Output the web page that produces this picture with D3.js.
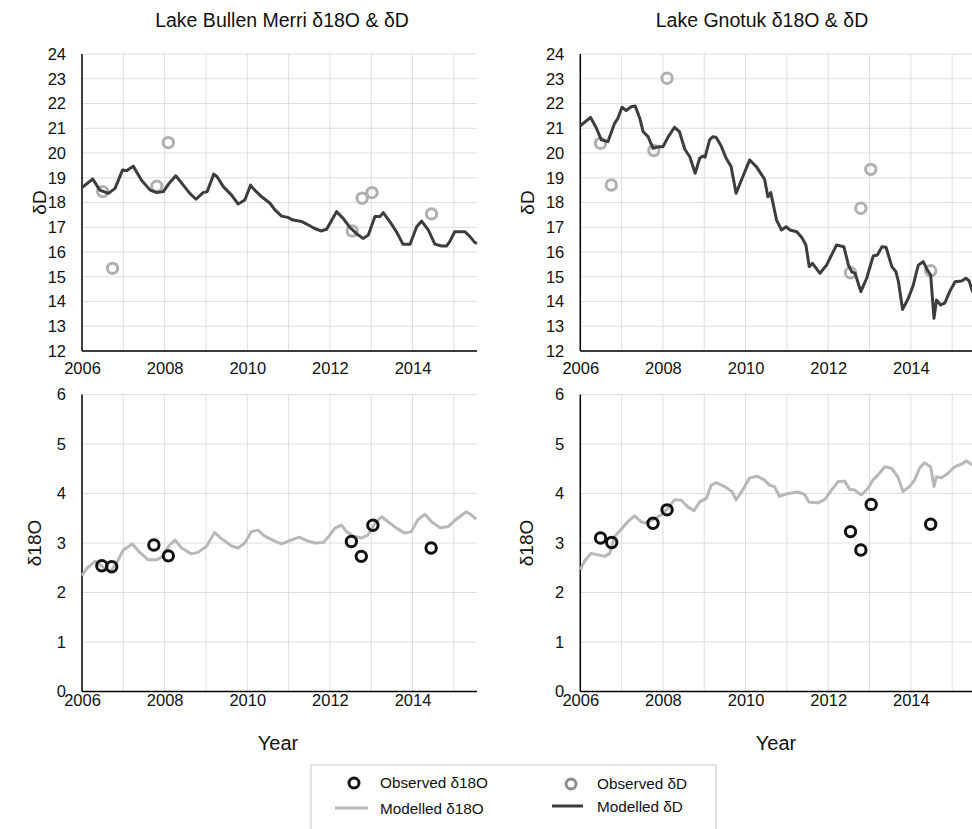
<!DOCTYPE html>
<html>
<head>
<meta charset="utf-8">
<script src="https://cdn.jsdelivr.net/npm/d3@7"></script>
<style>
  body { margin: 0; background: #fff; }
  svg { font-family: "Liberation Sans", Arial, sans-serif; }
  .tick text { font-size: 16.5px; fill: #111; }
  .grid line { stroke: #dedede; stroke-width: 1; }
  .axis-title { font-size: 19px; fill: #111; }
  .year-title { font-size: 20px; fill: #111; }
  .panel-title { font-size: 19.5px; fill: #111; }
  .legend-label { font-size: 15.3px; fill: #111; }
</style>
</head>
<body>
<div id="chart"></div>
<script>
// values, [decimal year, value]
var bullenModD = [[2006.0,18.6],[2006.26,18.95],[2006.43,18.5],[2006.64,18.37],[2006.8,18.57],[2006.98,19.31],[2007.08,19.28],[2007.24,19.47],[2007.44,18.9],[2007.65,18.5],[2007.81,18.4],[2007.97,18.44],[2008.11,18.78],[2008.27,19.08],[2008.45,18.7],[2008.61,18.37],[2008.76,18.13],[2008.93,18.4],[2009.03,18.44],[2009.19,19.15],[2009.27,19.04],[2009.42,18.64],[2009.62,18.3],[2009.78,17.94],[2009.94,18.1],[2010.08,18.7],[2010.18,18.5],[2010.35,18.23],[2010.55,17.97],[2010.67,17.7],[2010.83,17.45],[2010.98,17.4],[2011.11,17.29],[2011.32,17.23],[2011.48,17.09],[2011.62,16.96],[2011.78,16.85],[2011.92,16.92],[2012.16,17.63],[2012.32,17.36],[2012.48,17.0],[2012.65,16.73],[2012.81,16.55],[2012.93,16.69],[2013.09,17.43],[2013.21,17.43],[2013.29,17.59],[2013.45,17.23],[2013.61,16.82],[2013.77,16.31],[2013.94,16.31],[2014.1,17.02],[2014.22,17.25],[2014.38,16.89],[2014.54,16.32],[2014.7,16.24],[2014.82,16.24],[2014.9,16.42],[2015.02,16.82],[2015.27,16.82],[2015.39,16.62],[2015.51,16.38],[2015.56,16.35]];
var bullenObsD = [[2006.5,18.44],[2006.74,15.34],[2007.81,18.66],[2008.09,20.42],[2012.54,16.85],[2012.78,18.17],[2013.02,18.4],[2014.46,17.54]];
var bullenMod18O = [[2006.0,2.34],[2006.12,2.49],[2006.32,2.63],[2006.52,2.51],[2006.68,2.42],[2006.84,2.6],[2007.0,2.86],[2007.22,2.98],[2007.4,2.81],[2007.6,2.66],[2007.8,2.66],[2007.96,2.73],[2008.09,2.93],[2008.25,3.06],[2008.41,2.9],[2008.65,2.78],[2008.81,2.81],[2009.01,2.93],[2009.21,3.21],[2009.42,3.06],[2009.62,2.94],[2009.78,2.9],[2009.94,3.0],[2010.1,3.23],[2010.26,3.26],[2010.42,3.14],[2010.62,3.06],[2010.83,2.98],[2011.03,3.05],[2011.26,3.12],[2011.43,3.05],[2011.63,3.0],[2011.84,3.01],[2011.96,3.12],[2012.12,3.3],[2012.28,3.36],[2012.4,3.23],[2012.56,3.14],[2012.76,3.1],[2012.92,3.16],[2013.09,3.4],[2013.25,3.53],[2013.41,3.43],[2013.61,3.3],[2013.81,3.2],[2013.97,3.23],[2014.13,3.47],[2014.3,3.58],[2014.46,3.43],[2014.66,3.31],[2014.86,3.33],[2015.06,3.48],[2015.3,3.63],[2015.42,3.57],[2015.54,3.48]];
var bullenObs18O = [[2006.48,2.54],[2006.72,2.52],[2007.74,2.96],[2008.09,2.74],[2012.52,3.03],[2012.76,2.73],[2013.04,3.36],[2014.45,2.9]];

var gnotukModD = [[2006.0,21.1],[2006.25,21.44],[2006.39,21.0],[2006.51,20.53],[2006.67,20.46],[2006.83,21.2],[2006.91,21.4],[2007.01,21.85],[2007.11,21.71],[2007.23,21.87],[2007.33,21.9],[2007.44,21.4],[2007.52,20.86],[2007.64,20.66],[2007.76,20.19],[2007.88,20.25],[2008.0,20.25],[2008.12,20.63],[2008.28,21.04],[2008.4,20.86],[2008.53,20.15],[2008.65,19.85],[2008.78,19.18],[2008.89,19.79],[2008.97,19.88],[2009.02,19.83],[2009.13,20.53],[2009.21,20.66],[2009.29,20.63],[2009.41,20.28],[2009.53,19.79],[2009.65,19.45],[2009.77,18.37],[2009.9,18.91],[2010.1,19.72],[2010.26,19.45],[2010.46,18.94],[2010.54,18.23],[2010.61,18.4],[2010.75,17.29],[2010.87,16.89],[2010.98,17.02],[2011.07,16.89],[2011.24,16.82],[2011.36,16.59],[2011.46,16.28],[2011.54,15.41],[2011.62,15.54],[2011.8,15.14],[2011.96,15.47],[2012.2,16.28],[2012.38,16.21],[2012.49,15.47],[2012.57,15.2],[2012.65,15.14],[2012.79,14.4],[2012.93,14.94],[2013.09,15.84],[2013.19,15.88],[2013.3,16.21],[2013.4,16.19],[2013.54,15.41],[2013.64,15.2],[2013.7,14.8],[2013.8,13.68],[2013.94,14.13],[2014.06,14.67],[2014.18,15.47],[2014.3,15.61],[2014.4,15.27],[2014.48,15.07],[2014.56,13.32],[2014.62,14.06],[2014.72,13.86],[2014.82,13.93],[2014.94,14.4],[2015.07,14.8],[2015.23,14.83],[2015.33,14.94],[2015.41,14.84],[2015.48,14.46],[2015.56,14.2]];
var gnotukObsD = [[2006.49,20.39],[2006.75,18.71],[2007.78,20.1],[2008.1,23.02],[2012.54,15.16],[2012.79,17.77],[2013.03,19.34],[2014.48,15.24]];
var gnotukMod18O = [[2006.0,2.46],[2006.1,2.63],[2006.26,2.79],[2006.43,2.76],[2006.59,2.73],[2006.71,2.79],[2006.83,3.13],[2006.99,3.28],[2007.15,3.43],[2007.31,3.55],[2007.47,3.43],[2007.59,3.4],[2007.76,3.47],[2007.96,3.57],[2008.12,3.7],[2008.28,3.87],[2008.44,3.87],[2008.6,3.73],[2008.75,3.65],[2008.89,3.83],[2009.05,3.9],[2009.17,4.17],[2009.29,4.22],[2009.49,4.14],[2009.67,4.04],[2009.77,3.87],[2009.93,4.07],[2010.09,4.31],[2010.28,4.35],[2010.46,4.27],[2010.58,4.17],[2010.7,4.14],[2010.82,3.94],[2010.98,3.99],[2011.27,4.03],[2011.43,3.98],[2011.53,3.83],[2011.75,3.81],[2011.92,3.88],[2012.08,4.07],[2012.24,4.24],[2012.4,4.25],[2012.52,4.08],[2012.64,4.07],[2012.8,3.97],[2012.96,4.1],[2013.08,4.27],[2013.2,4.37],[2013.37,4.54],[2013.53,4.51],[2013.69,4.33],[2013.81,4.04],[2013.97,4.14],[2014.09,4.27],[2014.21,4.51],[2014.33,4.62],[2014.48,4.54],[2014.56,4.14],[2014.62,4.34],[2014.74,4.32],[2014.9,4.41],[2015.06,4.54],[2015.26,4.61],[2015.34,4.66],[2015.46,4.59],[2015.56,4.55]];
var gnotukObs18O = [[2006.49,3.1],[2006.76,3.01],[2007.76,3.4],[2008.1,3.67],[2012.54,3.23],[2012.79,2.86],[2013.04,3.78],[2014.48,3.38]];

var yearTicks = [2006, 2008, 2010, 2012, 2014];
var dDTicks = d3.range(12, 25);
var o18Ticks = d3.range(0, 7);
var lakeNames = ["Lake Bullen Merri", "Lake Gnotuk"];

var W = 972, H = 829;
var colModD = '#3d3d3d', colMod18O = '#b8b8b8', colObsD = '#b0b0b0', colObs18O = '#111';

var svg = d3.select('#chart').append('svg').attr('width', W).attr('height', H);

function drawPanel(left, top, domainY, ticksY, modelled, observed, lineCol, circCol, yTitle, yTitleX, labelPad, circlesOnTop) {
    var w = 395, h = 297;
    var x = d3.scaleLinear().domain([2006, 2015.56]).range([left, left + w]);
    var y = d3.scaleLinear().domain(domainY).range([top + h, top]);
    var g = svg.append('g');

    // grid
    var grid = g.append('g').attr('class', 'grid');
    grid.selectAll('.vx').data(d3.range(2007, 2016)).enter().append('line')
        .attr('x1', d => x(d)).attr('x2', d => x(d))
        .attr('y1', top).attr('y2', top + h);
    grid.selectAll('.hy').data(ticksY).enter().append('line')
        .attr('x1', left).attr('x2', left + w)
        .attr('y1', d => y(d)).attr('y2', d => y(d));

    // axes
    var ax = g.append('g').attr('transform', `translate(0,${top + h})`)
        .call(d3.axisBottom(x).tickValues(yearTicks).tickFormat(d3.format('d')).tickSize(0).tickPadding(labelPad));
    ax.select('.domain').remove();
    var ay = g.append('g').attr('transform', `translate(${left},0)`)
        .call(d3.axisLeft(y).tickValues(ticksY).tickFormat(d3.format('d')).tickSize(0).tickPadding(16));
    ay.select('.domain').remove();
    g.selectAll('.tick text').attr('font-family', null).attr('font-size', null);

    g.append('line').attr('x1', left).attr('x2', left).attr('y1', top).attr('y2', top + h)
        .attr('stroke', '#000').attr('stroke-width', 1.5);
    g.append('line').attr('x1', left).attr('x2', left + w).attr('y1', top + h).attr('y2', top + h)
        .attr('stroke', '#000').attr('stroke-width', 1.5);

    var line = d3.line().x(d => x(d[0])).y(d => y(d[1]));
    var drawLine = function () {
        g.append('path').datum(modelled)
            .attr('d', line)
            .attr('fill', 'none')
            .attr('stroke', lineCol)
            .attr('stroke-width', 3)
            .attr('stroke-linejoin', 'round');
    };
    var drawCircles = function () {
        g.selectAll('.obs').data(observed).enter().append('circle')
            .attr('cx', d => x(d[0])).attr('cy', d => y(d[1]))
            .attr('r', 5.2)
            .attr('fill', 'none')
            .attr('stroke', circCol)
            .attr('stroke-width', 3);
    };
    if (circlesOnTop) { drawLine(); drawCircles(); } else { drawCircles(); drawLine(); }

    g.append('text').attr('class', 'axis-title')
        .attr('text-anchor', 'middle')
        .attr('transform', `translate(${yTitleX},${top + h / 2}) rotate(-90)`)
        .text(yTitle);
}

drawPanel(82, 54, [12, 24], dDTicks, bullenModD, bullenObsD, colModD, colObsD, 'δD', 46, 11, false);
drawPanel(580.3, 54, [12, 24], dDTicks, gnotukModD, gnotukObsD, colModD, colObsD, 'δD', 534, 11, false);
drawPanel(82, 394.5, [0, 6], o18Ticks, bullenMod18O, bullenObs18O, colMod18O, colObs18O, 'δ18O', 41, 3, true);
drawPanel(580.3, 394.5, [0, 6], o18Ticks, gnotukMod18O, gnotukObs18O, colMod18O, colObs18O, 'δ18O', 533, 3, true);

// titles
svg.append('text').attr('class', 'panel-title').attr('text-anchor', 'middle')
    .attr('x', 282).attr('y', 27).text(lakeNames[0] + ' δ18O & δD');
svg.append('text').attr('class', 'panel-title').attr('text-anchor', 'middle')
    .attr('x', 762).attr('y', 27).text(lakeNames[1] + ' δ18O & δD');

svg.append('text').attr('class', 'year-title').attr('text-anchor', 'middle')
    .attr('x', 278).attr('y', 750).text('Year');
svg.append('text').attr('class', 'year-title').attr('text-anchor', 'middle')
    .attr('x', 776).attr('y', 750).text('Year');

// legend
var lg = svg.append('g');
lg.append('rect').attr('x', 311).attr('y', 765).attr('width', 405).attr('height', 90)
    .attr('fill', '#fff').attr('stroke', '#c8c8c8');
lg.append('circle').attr('cx', 354).attr('cy', 783).attr('r', 5).attr('fill', 'none')
    .attr('stroke', colObs18O).attr('stroke-width', 3);
lg.append('text').attr('class', 'legend-label').attr('x', 380).attr('y', 788).text('Observed δ18O');
lg.append('circle').attr('cx', 571).attr('cy', 784).attr('r', 5).attr('fill', 'none')
    .attr('stroke', '#8c8c8c').attr('stroke-width', 3);
lg.append('text').attr('class', 'legend-label').attr('x', 597).attr('y', 789).text('Observed δD');
lg.append('line').attr('x1', 335).attr('x2', 368).attr('y1', 808).attr('y2', 808)
    .attr('stroke', colMod18O).attr('stroke-width', 3);
lg.append('text').attr('class', 'legend-label').attr('x', 380).attr('y', 814).text('Modelled δ18O');
lg.append('line').attr('x1', 552).attr('x2', 583).attr('y1', 806).attr('y2', 806)
    .attr('stroke', colModD).attr('stroke-width', 3);
lg.append('text').attr('class', 'legend-label').attr('x', 597).attr('y', 812).text('Modelled δD');
</script>
</body>
</html>
